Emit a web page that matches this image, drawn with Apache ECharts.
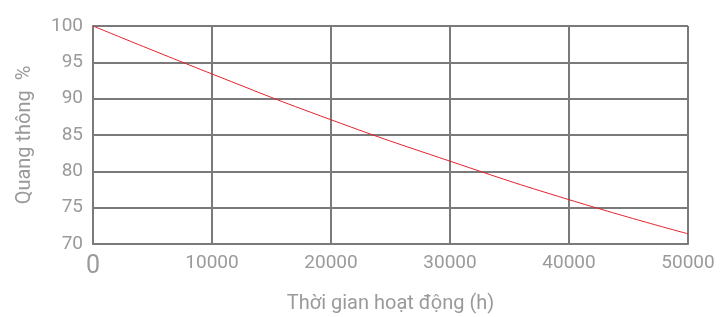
<!DOCTYPE html>
<html>
<head>
<meta charset="utf-8">
<script src="https://cdn.jsdelivr.net/npm/echarts@6/dist/echarts.min.js"></script>
<style>
  html, body { margin: 0; padding: 0; background: #fff; }
  #chart { width: 723px; height: 317px; }
</style>
</head>
<body>
<div id="chart"></div>
<script>
// operating hours vs luminous flux (%)
const hours = [0, 10000, 20000, 30000, 40000, 50000]
const flux = [100, 93.4, 87.1, 81.4, 76.1, 71.4]
const yTicks = [70, 75, 80, 85, 90, 95, 100]

const chart = echarts.init(document.getElementById('chart'))
const gray = '#9a9a9a'
const gridColor = '#7a7a7a'

chart.setOption({
  animation: false,
  grid: { left: 93, right: 35, top: 26, bottom: 73, outerBoundsMode: 'none' },
  xAxis: {
    type: 'value',
    min: 0,
    max: 50000,
    interval: 10000,
    name: 'Thời gian hoạt động (h)',
    nameLocation: 'middle',
    nameGap: 50,
    nameTextStyle: { color: gray, fontSize: 20, fontFamily: 'Roboto' },
    axisLine: { show: true, lineStyle: { color: gridColor, width: 2 } },
    axisTick: { show: false },
    splitLine: { show: true, lineStyle: { color: gridColor, width: 2 } },
    axisLabel: {
      color: gray, fontSize: 19, fontFamily: 'Roboto', margin: 10,
      formatter: v => v === 0 ? '{big|0}' : String(v),
      rich: { big: { fontSize: 25, color: gray, fontFamily: 'Roboto', padding: [0, 0, 4, 0] } }
    }
  },
  yAxis: {
    type: 'value',
    min: yTicks[0],
    max: yTicks[yTicks.length - 1],
    interval: 5,
    name: 'Quang thông  %',
    nameLocation: 'middle',
    nameGap: 58,
    nameTextStyle: { color: gray, fontSize: 20, fontFamily: 'Roboto' },
    axisLine: { show: true, lineStyle: { color: gridColor, width: 2 } },
    axisTick: { show: false },
    splitLine: { show: true, lineStyle: { color: gridColor, width: 2 } },
    axisLabel: { color: gray, fontSize: 19, fontFamily: 'Roboto', margin: 10 }
  },
  series: [{
    type: 'line',
    data: hours.map((h, i) => [h, flux[i]]),
    smooth: true,
    showSymbol: false,
    lineStyle: { color: '#e3222b', width: 1 }
  }]
})
</script>
</body>
</html>
